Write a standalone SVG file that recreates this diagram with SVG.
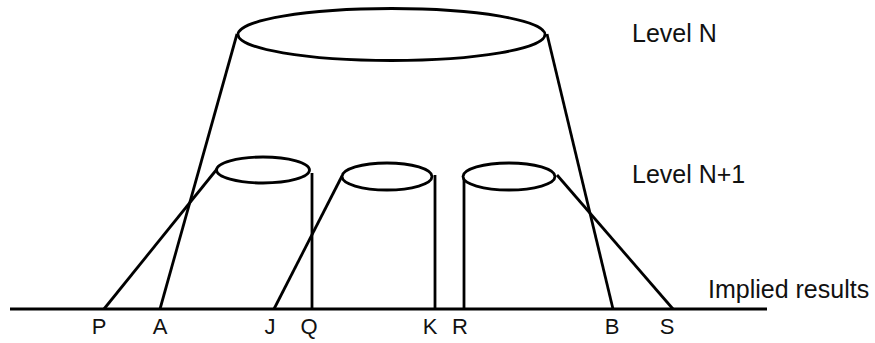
<svg xmlns="http://www.w3.org/2000/svg" width="875" height="343" viewBox="0 0 875 343">
<style>
.s{fill:none;stroke:#000;stroke-width:2.8;stroke-linecap:butt}
.e{fill:#fff;stroke:#000;stroke-width:2.8}
.t{font-family:"Liberation Sans",Arial,sans-serif;font-size:25px;fill:#111}
.l{font-family:"Liberation Sans",Arial,sans-serif;font-size:22px;fill:#111;text-anchor:middle}
</style>
<rect width="875" height="343" fill="#fff"/>
<g id="connectors">
<line class="s" x1="10" y1="309" x2="767" y2="309"/>
<line class="s" x1="237" y1="34" x2="160" y2="309"/>
<line class="s" x1="547" y1="34" x2="613" y2="309"/>
<line class="s" x1="217" y1="169" x2="104" y2="309"/>
<line class="s" x1="312" y1="173" x2="312" y2="309"/>
<line class="s" x1="342" y1="176" x2="274" y2="309"/>
<line class="s" x1="435" y1="175" x2="435" y2="309"/>
<line class="s" x1="464" y1="176" x2="464" y2="309"/>
<line class="s" x1="557" y1="175" x2="673" y2="309"/>
</g>
<g id="levelN"><ellipse class="e" cx="391.5" cy="34.5" rx="153.5" ry="26"/></g>
<g id="n1a"><ellipse class="e" cx="263" cy="170" rx="46.5" ry="13"/></g>
<g id="n1b"><ellipse class="e" cx="387" cy="176.5" rx="45" ry="13.5"/></g>
<g id="n1c"><ellipse class="e" cx="509" cy="176.5" rx="46" ry="13.5"/></g>
<g id="labels">
<text class="t" x="632" y="42">Level N</text>
<text class="t" x="632" y="183">Level N+1</text>
<text class="t" x="708" y="298">Implied results</text>
<text class="l" x="99" y="334">P</text>
<text class="l" x="160" y="334">A</text>
<text class="l" x="270" y="334">J</text>
<text class="l" x="309" y="334">Q</text>
<text class="l" x="430" y="334">K</text>
<text class="l" x="460" y="334">R</text>
<text class="l" x="612" y="334">B</text>
<text class="l" x="667" y="334">S</text>
</g>
</svg>
